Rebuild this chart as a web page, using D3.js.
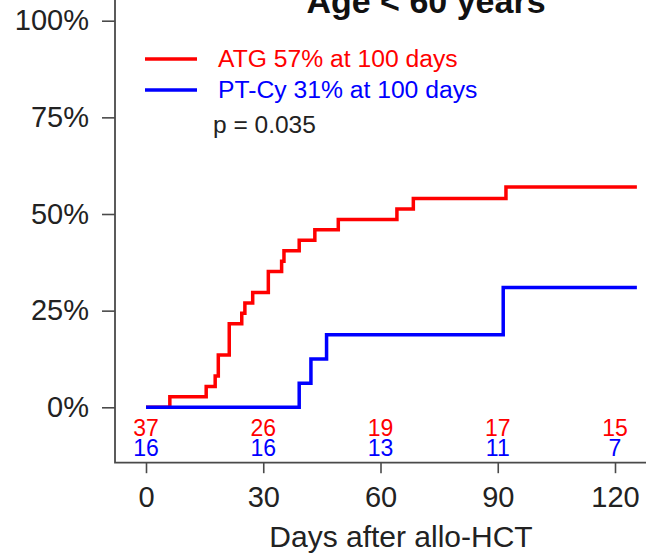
<!DOCTYPE html>
<html>
<head>
<meta charset="utf-8">
<script src="https://cdn.jsdelivr.net/npm/d3@7"></script>
<style>
  html, body { margin: 0; padding: 0; background: #fff; }
  svg { display: block; font-family: "Liberation Sans", Arial, sans-serif; }
</style>
</head>
<body>
<svg id="chart" width="646" height="554"></svg>
<script>
// Cumulative incidence, days after transplant (step function, value in %)
const atgDays   = [0, 6.1, 15.4, 17.7, 18.5, 21.3, 24.5, 25.3, 27.3, 31.3, 34.7, 35.3, 39.2, 43.2, 49.2, 64.2, 68.4, 92.1, 125.6];
const atgValues = [0, 2.7, 5.4, 8.1, 13.5, 21.6, 24.3, 27.0, 29.7, 35.1, 37.8, 40.5, 43.2, 45.9, 48.6, 51.3, 54.0, 57, 57];
const ptcyDays   = [0, 39.2, 42.2, 46.2, 91.4, 125.6];
const ptcyValues = [0, 6.25, 12.5, 18.75, 31, 31];

// Number at risk
const riskDays = [0, 30, 60, 90, 120];
const atgRisk  = [37, 26, 19, 17, 15];
const ptcyRisk = [16, 16, 13, 11, 7];

// Axis ticks
const xTicks = [0, 30, 60, 90, 120];
const yTicks = [0, 25, 50, 75, 100];

const title = "Age < 60 years";
const xLabel = "Days after allo-HCT";
const legendLabels = ["ATG 57% at 100 days", "PT-Cy 31% at 100 days"];
const pText = "p = 0.035";

const RED = "#ff0000", BLUE = "#0000ff", AXIS = "#4a4a4a";

const svg = d3.select("#chart");
const x = d3.scaleLinear().domain([0, 120]).range([146, 615]);
const y = d3.scaleLinear().domain([0, 100]).range([407.3, 20.7]);
const axisY = 462.7, axisX = 115;

// Ticks and labels
const gy = svg.append("g").attr("transform", `translate(${axisX},0)`)
  .call(d3.axisLeft(y).tickValues(yTicks).tickSize(13).tickPadding(13).tickFormat(d => d + "%"));
const gx = svg.append("g").attr("transform", `translate(0,${axisY})`)
  .call(d3.axisBottom(x).tickValues(xTicks).tickSize(10.5).tickPadding(13.5).tickFormat(d3.format("d")));
[gx, gy].forEach(g => {
  g.select(".domain").remove();
  g.selectAll(".tick line").attr("stroke", AXIS).attr("stroke-width", 1.6);
  g.selectAll(".tick text").attr("fill", "#222").attr("font-size", 29)
    .attr("font-family", "Liberation Sans, Arial, sans-serif");
});

// L-shaped frame
svg.append("path")
  .attr("d", `M${axisX},0V${axisY}H646`)
  .attr("fill", "none").attr("stroke", AXIS).attr("stroke-width", 1.8);

// Step curves (PT-Cy drawn last, on top)
const line = d3.line().curve(d3.curveStepAfter).x(d => x(d[0])).y(d => y(d[1]));
svg.append("path").datum(d3.zip(atgDays, atgValues))
  .attr("d", line).attr("fill", "none").attr("stroke", RED).attr("stroke-width", 3.5);
svg.append("path").datum(d3.zip(ptcyDays, ptcyValues))
  .attr("d", line).attr("fill", "none").attr("stroke", BLUE).attr("stroke-width", 3.5);

// Number at risk rows
svg.append("g").selectAll("text").data(d3.zip(riskDays, atgRisk)).join("text")
  .attr("x", d => x(d[0])).attr("y", 435.5).attr("text-anchor", "middle")
  .attr("font-size", 23).attr("fill", RED).text(d => d[1]);
svg.append("g").selectAll("text").data(d3.zip(riskDays, ptcyRisk)).join("text")
  .attr("x", d => x(d[0])).attr("y", 455.5).attr("text-anchor", "middle")
  .attr("font-size", 23).attr("fill", BLUE).text(d => d[1]);

// Title
svg.append("text").attr("x", 426).attr("y", 13).attr("text-anchor", "middle")
  .attr("font-size", 34).attr("font-weight", "bold").attr("fill", "#111").text(title);

// Axis label
svg.append("text").attr("x", 401).attr("y", 547).attr("text-anchor", "middle")
  .attr("font-size", 30).attr("fill", "#222").text(xLabel);

// Legend
const legendColors = [RED, BLUE];
const legend = svg.append("g");
legendLabels.forEach((lab, i) => {
  const ly = 59 + i * 31;
  legend.append("line").attr("x1", 145).attr("x2", 197).attr("y1", ly).attr("y2", ly)
    .attr("stroke", legendColors[i]).attr("stroke-width", 3.5);
  legend.append("text").attr("x", 218).attr("y", ly + 8.3)
    .attr("font-size", 24.7).attr("fill", legendColors[i]).text(lab);
});
svg.append("text").attr("x", 213).attr("y", 132.7)
  .attr("font-size", 24.5).attr("fill", "#222").text(pText);
</script>
</body>
</html>
